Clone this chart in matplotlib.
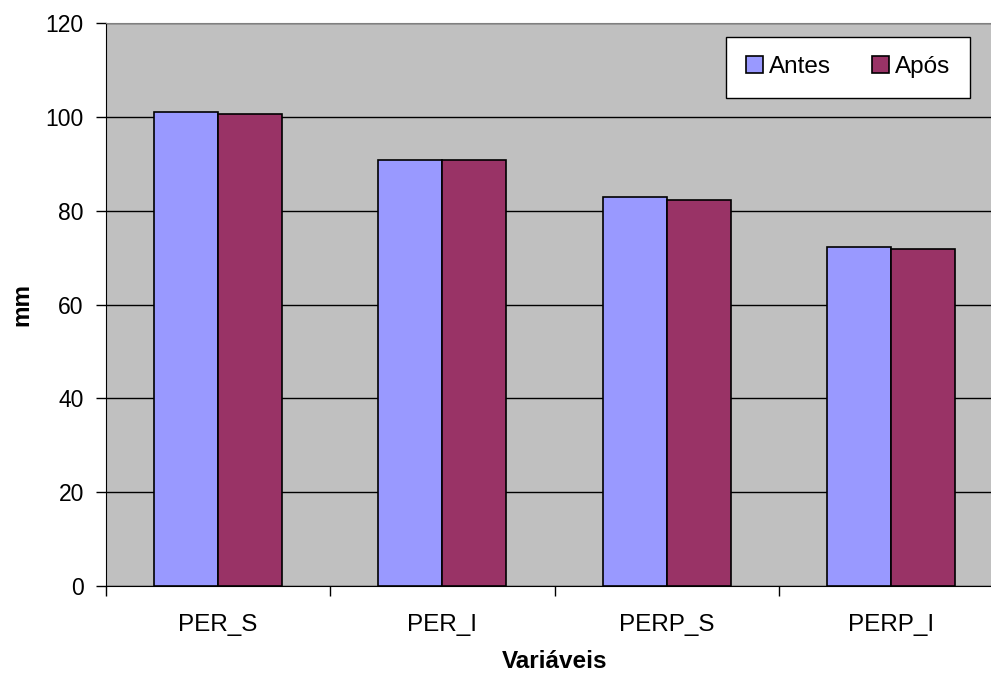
import matplotlib
matplotlib.use("Agg")
import matplotlib.pyplot as plt
import numpy as np

categories = ["PER_S", "PER_I", "PERP_S", "PERP_I"]
antes = [101.0, 90.7, 83.0, 72.3]
apos = [100.5, 90.8, 82.2, 71.9]

plt.rcParams["font.family"] = ["Liberation Sans", "DejaVu Sans"]
FS = 17.5

fig = plt.figure(figsize=(9.91, 6.77), dpi=100)
# the original plot area runs past the right edge of the picture
ax = fig.add_axes([106 / 991, 91 / 677, 897 / 991, 563 / 677])
ax.set_facecolor("#C0C0C0")

x = np.arange(len(categories))
w = 64 / 224.3
ax.bar(x - w / 2, antes, w, color="#9999FF", edgecolor="black", lw=1.2, label="Antes", zorder=3)
ax.bar(x + w / 2, apos, w, color="#993366", edgecolor="black", lw=1.2, label="Após", zorder=3)

ax.set_xlim(-0.5, len(categories) - 0.5)
ax.set_ylim(0, 120)
ax.set_yticks(range(0, 121, 20))
ax.yaxis.grid(True, color="black", lw=1.0, zorder=1)
ax.set_axisbelow(True)

ax.set_xticks(x)
ax.set_xticklabels(categories, fontsize=FS)
ax.tick_params(axis="x", which="major", length=0, pad=20)
ax.set_xticks(np.arange(-0.5, len(categories)), minor=True)
ax.tick_params(axis="x", which="minor", length=7, width=1, direction="out")
ax.tick_params(axis="y", labelsize=16.5, length=7, width=1, direction="out", pad=9)

for side in ("top", "right"):
    ax.spines[side].set_color("#808080")
for side in ("left", "bottom"):
    ax.spines[side].set_color("black")

fig.text(555 / 991, 1 - 661 / 677, "Variáveis", fontsize=FS, fontweight="bold",
         ha="center", va="center")
fig.text(22 / 991, 1 - 304 / 677, "mm", fontsize=FS, fontweight="bold",
         ha="center", va="center", rotation=90)

leg = ax.legend(loc="upper right", bbox_to_anchor=(970 / 991, 640 / 677),
                bbox_transform=fig.transFigure, ncol=2, fontsize=FS, frameon=True,
                fancybox=False, edgecolor="black", framealpha=1, borderpad=0.8,
                handlelength=0.7, handleheight=0.7, handletextpad=0.25, columnspacing=1.7,
                borderaxespad=0)
leg.get_frame().set_linewidth(1.0)

fig.savefig("out.png", dpi=100)
